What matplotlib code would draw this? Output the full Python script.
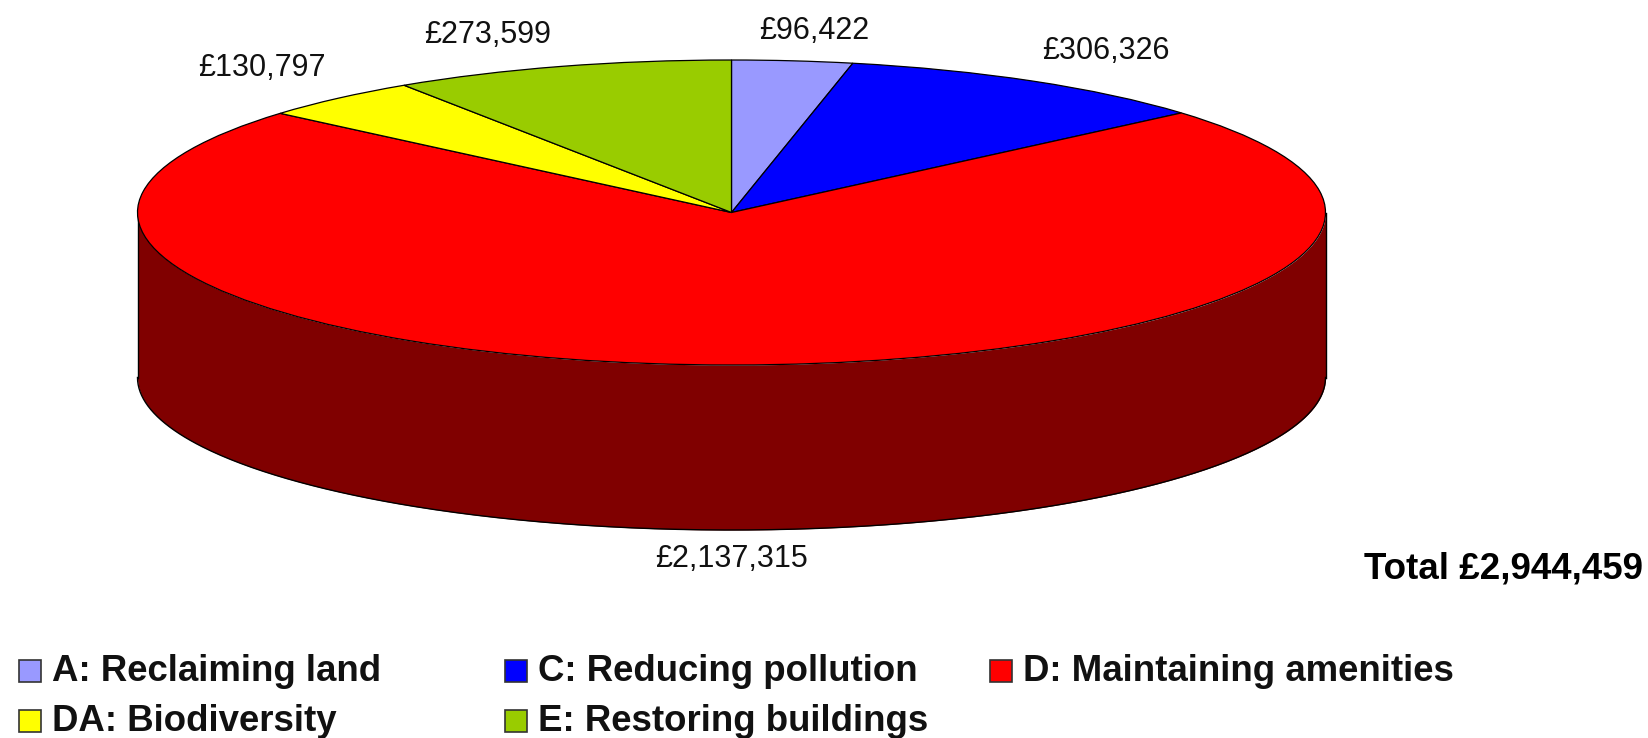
import numpy as np
import matplotlib
matplotlib.use('Agg')
import matplotlib.pyplot as plt
from matplotlib.patches import Rectangle

plt.rcParams['font.family'] = ['Liberation Sans', 'DejaVu Sans']

# Data
categories = ['A: Reclaiming land', 'C: Reducing pollution', 'D: Maintaining amenities',
              'DA: Biodiversity', 'E: Restoring buildings']
values = [96422, 306326, 2137315, 130797, 273599]
value_labels = ['£96,422', '£306,326', '£2,137,315', '£130,797', '£273,599']
colors = ['#9999FF', '#0000FF', '#FF0000', '#FFFF00', '#99CC00']
total_label = 'Total £2,944,459'

W, H = 1648, 738
CX, CY, RX, RY = 731.5, 212.5, 594, 152.5   # top ellipse, pixels
DEPTH = 165 / RY
SIDE_COLOR = '#800000'

# pixel layout of the free text and legend
label_pos = [(814, 31), (1106, 51), (731, 559), (262, 68), (488, 35)]
legend_pos = [(19, 660), (505, 660), (990, 660), (19, 710), (505, 710)]


def fx(x):
    return x / W


def fy(y):
    return 1 - y / H


fig = plt.figure(figsize=(W / 100, H / 100), dpi=100)
ax = fig.add_axes([0, 0, 1, 1])

# the side wall goes under the pie
t = np.linspace(np.pi, 2 * np.pi, 400)
ax.fill_between(np.cos(t), np.sin(t), np.sin(t) - DEPTH, color=SIDE_COLOR, lw=0, zorder=0)
ax.plot(np.cos(t), np.sin(t) - DEPTH, color='black', lw=1, zorder=0.5)
ax.plot([-1, -1], [0, -DEPTH], color='black', lw=1, zorder=0.5)
ax.plot([1, 1], [0, -DEPTH], color='black', lw=1, zorder=0.5)

ax.pie(values, colors=colors, startangle=90, counterclock=False, radius=1,
       wedgeprops={'edgecolor': 'black', 'linewidth': 0.9})

# squash the circle to the ellipse, in figure pixels
ax.set_aspect('auto')
ax.set_xlim(-CX / RX, (W - CX) / RX)
ax.set_ylim((CY - H) / RY, CY / RY)
ax.axis('off')

for lab, (x, y) in zip(value_labels, label_pos):
    fig.text(fx(x), fy(y), lab, ha='center', va='center', fontsize=22, color='#111111')

fig.text(fx(1643), fy(569), total_label, ha='right', va='center', fontsize=26.5,
         fontweight='bold', color='black')

# legend, the columns are not evenly spaced so it is placed by hand
for name, c, (x, y) in zip(categories, colors, legend_pos):
    fig.add_artist(Rectangle((fx(x), fy(y + 22)), 22 / W, 22 / H, transform=fig.transFigure,
                             facecolor=c, edgecolor='#333333', lw=1.2))
    fig.text(fx(x + 33), fy(y + 11.5), name, ha='left', va='center', fontsize=26.4,
             fontweight='bold', color='#111111')

fig.savefig('out.png', dpi=100)
